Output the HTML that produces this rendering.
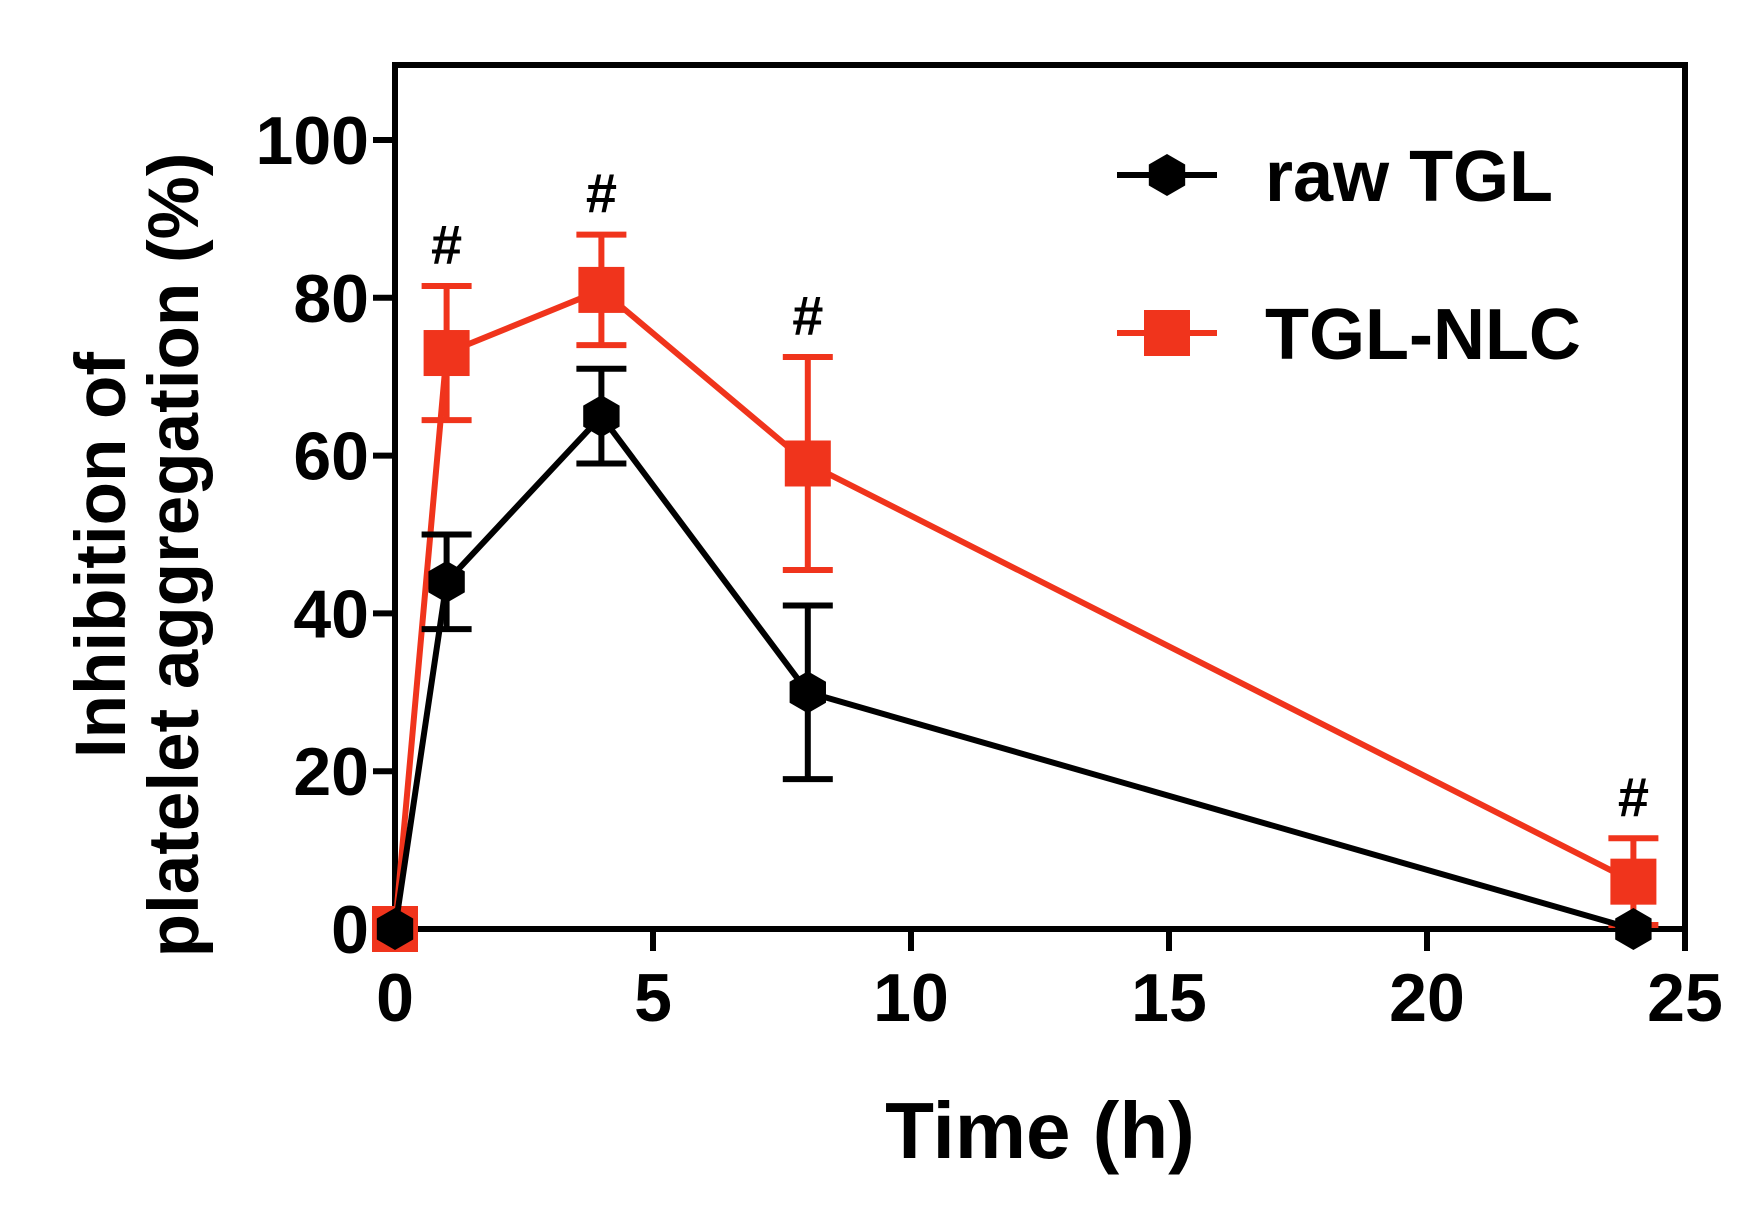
<!DOCTYPE html>
<html><head><meta charset="utf-8"><style>body{margin:0;background:#fff}svg{display:block}text{font-family:"Liberation Sans",Arial,sans-serif;font-weight:bold}</style></head>
<body>
<svg id="chart" width="1742" height="1217" viewBox="0 0 1742 1217" xmlns="http://www.w3.org/2000/svg"></svg>
<script>
const times = [0, 1, 4, 8, 24];
const rawValues = [0, 44, 65, 30, 0];
const rawErr = [0, 6, 6, 11, 0];
const nlcValues = [0, 73, 81, 59, 6];
const nlcErr = [0, 8.5, 7, 13.5, 5.5];
const sigTimes = [1, 4, 8, 24];
const xTicks = [0, 5, 10, 15, 20, 25];
const yTicks = [0, 20, 40, 60, 80, 100];

const svg = document.getElementById('chart');
const NS = 'http://www.w3.org/2000/svg';
const X0 = 395, X1 = 1685, Y0 = 929, Y100 = 140, TOP = 65;
const sx = v => X0 + (X1 - X0) * v / 25;
const sy = v => Y0 - (Y0 - Y100) * v / 100;
function mk(tag, attrs, parent) {
  const e = document.createElementNS(NS, tag);
  for (const k in attrs) e.setAttribute(k, attrs[k]);
  (parent || svg).appendChild(e);
  return e;
}
const RED = '#f0341c';

const frame = mk('rect', {x: X0, y: TOP, width: X1 - X0, height: Y0 - TOP, fill: 'none', stroke: '#000', 'stroke-width': 6});



yTicks.forEach(t => {
  const l = mk('line', {x1: X0 - 22, x2: X0, y1: sy(t), y2: sy(t), stroke: '#000', 'stroke-width': 6});
  
  
  const tx = mk('text', {x: X0 - 26, y: sy(t) + 24, 'font-size': 68, 'text-anchor': 'end'});
  tx.textContent = t;
  
  
});
xTicks.forEach(t => {
  const l = mk('line', {x1: sx(t), x2: sx(t), y1: Y0, y2: Y0 + 22, stroke: '#000', 'stroke-width': 6});
  
  
  const tx = mk('text', {x: sx(t), y: Y0 + 92, 'font-size': 68, 'text-anchor': 'middle'});
  tx.textContent = t;
  
  
});

const xt = mk('text', {x: 1040, y: 1158, 'font-size': 80, 'text-anchor': 'middle'});
xt.textContent = 'Time (h)';


const yt = mk('text', {'font-size': 71, 'text-anchor': 'middle'});


const t1 = mk('tspan', {x: 0, y: 0}, yt); t1.textContent = 'Inhibition of';
const t2 = mk('tspan', {x: 0, dy: 73}, yt); t2.textContent = 'platelet aggregation (%)';
yt.setAttribute('transform', 'translate(125,555) rotate(-90)');

function series(vals, errs, color, name, marker) {
  const g = mk('g', {});
  
  
  times.forEach((t, i) => {
    if (!errs[i]) return;
    const x = sx(t), a = sy(vals[i] + errs[i]), b = sy(vals[i] - errs[i]);
    mk('line', {x1: x, x2: x, y1: a, y2: b, stroke: color, 'stroke-width': 6}, g);
    mk('line', {x1: x - 25, x2: x + 25, y1: a, y2: a, stroke: color, 'stroke-width': 6}, g);
    mk('line', {x1: x - 25, x2: x + 25, y1: b, y2: b, stroke: color, 'stroke-width': 6}, g);
  });
  mk('polyline', {points: times.map((t, i) => sx(t) + ',' + sy(vals[i])).join(' '), fill: 'none', stroke: color, 'stroke-width': 6}, g);
  times.forEach((t, i) => {
    const x = sx(t), y = sy(vals[i]);
    let m;
    if (marker === 'sq') m = mk('rect', {x: x - 23, y: y - 23, width: 46, height: 46, fill: color}, g);
    else {
      const pts = [];
      for (let k = 0; k < 6; k++) { const an = Math.PI / 6 + k * Math.PI / 3; pts.push((x + 21 * Math.cos(an)) + ',' + (y + 21 * Math.sin(an))); }
      m = mk('polygon', {points: pts.join(' '), fill: color}, g);
    }
    
    
  });
}
series(nlcValues, nlcErr, RED, 'tgl-nlc-series', 'sq');
series(rawValues, rawErr, '#000', 'raw-tgl-series', 'hex');

sigTimes.forEach(t => {
  const i = times.indexOf(t);
  const h = mk('text', {x: sx(t), y: sy(nlcValues[i] + nlcErr[i]) - 22, 'font-size': 56, 'text-anchor': 'middle'});
  h.textContent = '#';
  
  
});

const lg = mk('g', {});


mk('line', {x1: 1117, x2: 1217, y1: 175, y2: 175, stroke: '#000', 'stroke-width': 6}, lg);
const hp = [];
for (let k = 0; k < 6; k++) { const an = Math.PI / 6 + k * Math.PI / 3; hp.push((1167 + 21 * Math.cos(an)) + ',' + (175 + 21 * Math.sin(an))); }
mk('polygon', {points: hp.join(' '), fill: '#000'}, lg);
const l1 = mk('text', {x: 1265, y: 201, 'font-size': 72}, lg); l1.textContent = 'raw TGL';


mk('line', {x1: 1117, x2: 1217, y1: 333, y2: 333, stroke: RED, 'stroke-width': 6}, lg);
mk('rect', {x: 1144, y: 310, width: 46, height: 46, fill: RED}, lg);
const l2 = mk('text', {x: 1265, y: 359, 'font-size': 72}, lg); l2.textContent = 'TGL-NLC';


</script>
</body></html>
